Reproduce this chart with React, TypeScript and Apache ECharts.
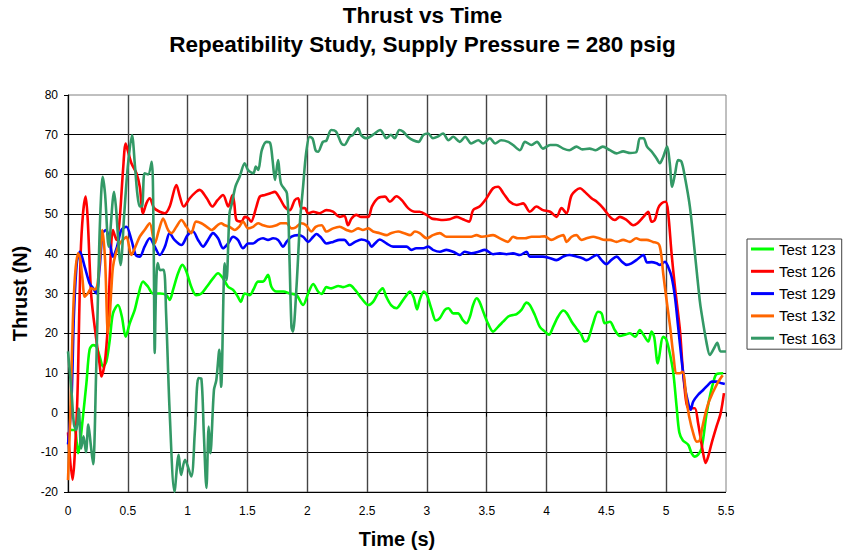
import React, { useEffect, useRef } from "react";
import * as echarts from "echarts";

const titleText = "Thrust vs Time\nRepeatibility Study, Supply Pressure = 280 psig";
const xName = "Time (s)";
const yName = "Thrust (N)";
const seriesNames = ["Test 123", "Test 126", "Test 129", "Test 132", "Test 163"];
const seriesColors = ["#00FF00", "#FF0000", "#0000FF", "#FF6600", "#339966"];

const test123: [number, number][] = [
  [0.01, -4], [0.028, -4.4], [0.056, -4.4], [0.084, -10.2], [0.1, -8], [0.125, -1], [0.154, 7.4],
  [0.18, 15.8], [0.209, 17], [0.237, 16.6], [0.265, 14.1], [0.293, 11.6], [0.32, 12.8], [0.349, 18.3],
  [0.376, 25], [0.418, 27.1], [0.45, 24.2], [0.482, 19.1], [0.516, 22.5], [0.558, 25.9], [0.585, 29.2],
  [0.627, 33], [0.669, 31.7], [0.71, 30], [0.77, 30], [0.823, 29.6], [0.85, 28.4], [0.878, 30.9],
  [0.92, 35.1], [0.956, 37.2], [0.99, 35.5], [1.03, 31.7], [1.07, 29.6], [1.115, 30], [1.16, 31.7],
  [1.212, 33.8], [1.254, 35.1], [1.296, 33.8], [1.338, 31.7], [1.38, 30.9], [1.42, 29.2], [1.444, 27.9],
  [1.477, 30], [1.52, 29.6], [1.55, 31], [1.589, 33], [1.63, 33], [1.672, 34.7], [1.7, 31.7],
  [1.742, 30.5], [1.8, 30.5], [1.854, 30], [1.91, 29.6], [1.965, 27.1], [2.007, 30], [2.05, 32.4],
  [2.09, 30.5], [2.12, 29.9], [2.16, 31.6], [2.2, 31.3], [2.26, 31.9], [2.3, 31.6], [2.355, 32.1],
  [2.4, 30.9], [2.453, 28.8], [2.51, 27.1], [2.55, 27.9], [2.59, 30], [2.63, 31.3], [2.66, 29.2],
  [2.7, 27.1], [2.746, 26.3], [2.79, 27.9], [2.83, 29.6], [2.857, 30.5], [2.89, 29], [2.918, 26],
  [2.94, 28.4], [2.974, 30.5], [3.0, 29.6], [3.04, 25.9], [3.074, 23.2], [3.108, 23.8], [3.15, 25.9],
  [3.18, 26.3], [3.22, 25], [3.26, 25], [3.3, 23.3], [3.33, 22.5], [3.36, 24.2], [3.386, 27.1],
  [3.415, 28.8], [3.44, 27.9], [3.476, 25], [3.51, 22.5], [3.553, 20.4], [3.595, 21.6], [3.637, 22.9],
  [3.68, 24.2], [3.72, 24.6], [3.75, 24.8], [3.79, 25.9], [3.833, 27.7], [3.86, 27.1], [3.902, 24.6],
  [3.944, 21.6], [3.986, 20.4], [4.02, 19.6], [4.055, 21.6], [4.097, 24.2], [4.14, 25.7], [4.17, 25],
  [4.21, 22.9], [4.25, 21.2], [4.29, 19.6], [4.32, 17.9], [4.345, 18.3], [4.39, 22.5], [4.43, 25.4],
  [4.46, 25], [4.487, 22.5], [4.53, 22.9], [4.57, 20.8], [4.613, 19.3], [4.655, 19.6], [4.697, 20],
  [4.74, 19.1], [4.78, 20.8], [4.81, 19.6], [4.85, 17.9], [4.878, 20.4], [4.9, 19], [4.93, 12.4],
  [4.975, 19.1], [5.0, 18.5], [5.03, 15], [5.06, 9.9], [5.087, 1.5], [5.11, -5], [5.14, -7],
  [5.184, -8.1], [5.212, -10.2], [5.24, -11.1], [5.267, -10.6], [5.296, -9], [5.338, -0.2],
  [5.371, 4.9], [5.399, 8.2], [5.421, 9.7], [5.477, 9.9],
];

const test126: [number, number][] = [
  [0, -5], [0.037, -16.9], [0.07, -2.7], [0.084, 9.9], [0.104, 38.4], [0.125, 50], [0.148, 54.4],
  [0.165, 48.5], [0.195, 29.2], [0.237, 18.3], [0.265, 12], [0.279, 9.1], [0.307, 12.4], [0.334, 22.5],
  [0.35, 35], [0.376, 46], [0.405, 43.5], [0.43, 48], [0.46, 61.1], [0.482, 67.8], [0.5, 66],
  [0.53, 62.8], [0.572, 60.3], [0.6, 56.9], [0.627, 50.2], [0.655, 52.7], [0.683, 54], [0.72, 51.5],
  [0.767, 50.6], [0.81, 50.2], [0.85, 51.9], [0.906, 57.3], [0.935, 54.4], [0.967, 51.9], [1.018, 54],
  [1.07, 55.6], [1.1, 56.1], [1.16, 54], [1.207, 51.9], [1.25, 53.5], [1.296, 54.8], [1.34, 51.9],
  [1.375, 54.8], [1.39, 52.7], [1.408, 48.5], [1.45, 48.1], [1.477, 49.3], [1.505, 49], [1.53, 48.1],
  [1.575, 51.9], [1.603, 54.4], [1.645, 54.8], [1.686, 55.2], [1.728, 55.6], [1.77, 54], [1.81, 51.9],
  [1.854, 51], [1.895, 53.5], [1.923, 54], [1.95, 51.5], [1.98, 51.5], [2.007, 50.2], [2.05, 50.6],
  [2.1, 50.2], [2.16, 51], [2.215, 50.6], [2.27, 49.3], [2.31, 49.6], [2.34, 47.2], [2.37, 48.9],
  [2.41, 49.8], [2.45, 49.3], [2.51, 49.3], [2.54, 51.9], [2.59, 54], [2.65, 54.4], [2.69, 53.1],
  [2.746, 54.5], [2.79, 53.5], [2.843, 51.5], [2.9, 50.6], [2.94, 50.6], [2.997, 49.8], [3.04, 48.9],
  [3.08, 48.7], [3.135, 48.5], [3.19, 48.7], [3.25, 49.3], [3.3, 48.7], [3.353, 48.1], [3.386, 51],
  [3.44, 51.9], [3.498, 54], [3.553, 56.5], [3.595, 56.9], [3.64, 55.2], [3.693, 53.1], [3.75, 52.3],
  [3.804, 52.7], [3.86, 50.6], [3.916, 51.9], [3.97, 51], [4.03, 50.6], [4.083, 49.3], [4.125, 51.5],
  [4.167, 50.2], [4.21, 54.8], [4.28, 56.5], [4.32, 55.6], [4.376, 54], [4.42, 53.1], [4.473, 51.5],
  [4.53, 49.3], [4.57, 48.5], [4.613, 49.3], [4.67, 48.5], [4.724, 47.2], [4.76, 47.7], [4.81, 49.3],
  [4.85, 50.6], [4.878, 48.1], [4.905, 48.5], [4.933, 51.5], [4.96, 52.7], [4.997, 53.1], [5.017, 50.2],
  [5.045, 40.1], [5.073, 31.7], [5.115, 20.8], [5.142, 9.9], [5.184, 1.1], [5.212, 1.1], [5.24, 1.1],
  [5.267, -2.7], [5.304, -9.4], [5.33, -12.7], [5.351, -11.1], [5.38, -7.7], [5.421, -3.5],
  [5.455, -0.2], [5.483, 4.9],
];

const test129: [number, number][] = [
  [0, -8], [0.028, 2.4], [0.05, 25], [0.075, 38], [0.1, 40.5], [0.14, 36.7], [0.18, 32.6], [0.21, 31.3],
  [0.237, 30], [0.265, 36.7], [0.29, 45.2], [0.32, 46], [0.35, 42.6], [0.376, 39.3], [0.41, 41.8],
  [0.446, 46], [0.488, 46.8], [0.53, 43.5], [0.566, 39.7], [0.6, 39.3], [0.64, 41.8], [0.683, 43.9],
  [0.725, 41.8], [0.767, 39.7], [0.81, 41.8], [0.85, 45.2], [0.89, 43.5], [0.948, 42.2], [1.0, 44.7],
  [1.045, 45.6], [1.087, 43.5], [1.129, 41.8], [1.17, 43.5], [1.212, 45.2], [1.254, 43.9], [1.296, 41.4],
  [1.338, 42.6], [1.38, 44.3], [1.42, 43.5], [1.463, 41.4], [1.505, 42.6], [1.547, 42.6], [1.589, 43.5],
  [1.63, 43.9], [1.672, 43.5], [1.714, 43.9], [1.756, 43.5], [1.798, 41.8], [1.826, 43], [1.868, 44.3],
  [1.923, 44.7], [1.965, 44.3], [2.007, 43], [2.05, 44.3], [2.077, 45], [2.12, 43.9], [2.16, 42.6],
  [2.216, 43], [2.27, 43.5], [2.31, 43.5], [2.355, 42.2], [2.4, 43], [2.453, 43.6], [2.51, 43],
  [2.537, 41.8], [2.565, 42.6], [2.606, 43.6], [2.662, 42.6], [2.717, 41.8], [2.77, 41.8], [2.83, 41.8],
  [2.87, 41], [2.91, 41.4], [2.97, 41.4], [3.01, 41.8], [3.05, 41], [3.108, 40.5], [3.164, 41],
  [3.22, 40.5], [3.275, 39.7], [3.316, 40.5], [3.37, 40.1], [3.43, 40.5], [3.484, 41], [3.553, 39.9],
  [3.61, 40.1], [3.665, 39.9], [3.72, 40.1], [3.777, 39.7], [3.833, 40.5], [3.86, 39.3], [3.916, 39.3],
  [3.97, 39.3], [4.03, 38.9], [4.083, 38.4], [4.14, 39.3], [4.19, 39.7], [4.25, 39.3], [4.3, 38.9],
  [4.335, 38.4], [4.39, 39.3], [4.42, 39.7], [4.46, 38.4], [4.5, 37.4], [4.54, 38.4], [4.585, 39.3],
  [4.63, 38], [4.67, 37.2], [4.71, 37.6], [4.75, 38.4], [4.81, 39.7], [4.84, 37.8], [4.878, 37.9],
  [4.92, 37.6], [4.947, 37.2], [4.99, 38], [5.017, 36.7], [5.045, 34.2], [5.073, 29.2], [5.1, 21.6],
  [5.129, 13.3], [5.156, 6.5], [5.184, 2.4], [5.204, 0.7], [5.226, 2.8], [5.267, 4.5], [5.309, 5.7],
  [5.351, 7], [5.38, 7.8], [5.421, 7.8], [5.463, 7.4], [5.49, 7.2],
];

const test132: [number, number][] = [
  [0, -17], [0.02, 0], [0.04, 22.5], [0.06, 35], [0.084, 40.1], [0.1, 39], [0.12, 34], [0.14, 29.2],
  [0.165, 30], [0.196, 31.3], [0.225, 31], [0.245, 32], [0.265, 38.4], [0.287, 46], [0.31, 38.4],
  [0.334, 20], [0.35, 25], [0.362, 31], [0.376, 36.7], [0.4, 40.1], [0.432, 42.6], [0.46, 43.5],
  [0.488, 44.3], [0.53, 39.7], [0.558, 41.4], [0.6, 44.3], [0.64, 46], [0.683, 47.7], [0.725, 42.6],
  [0.76, 46], [0.795, 48.9], [0.836, 46], [0.865, 45.2], [0.906, 46.8], [0.948, 48.5], [0.99, 46.8],
  [1.03, 45.2], [1.07, 48.1], [1.115, 47.7], [1.16, 46.8], [1.2, 46], [1.25, 47.2], [1.28, 47.7],
  [1.31, 47.2], [1.35, 46.8], [1.394, 46], [1.43, 46.8], [1.463, 48.1], [1.505, 46.4], [1.547, 46.8],
  [1.589, 47.7], [1.63, 47.2], [1.686, 46.8], [1.742, 47.2], [1.78, 47.7], [1.826, 47.7], [1.868, 46.4],
  [1.9, 46.6], [1.95, 47.7], [1.99, 47.2], [2.035, 45.6], [2.07, 46.8], [2.12, 47.2], [2.16, 45.6],
  [2.216, 46.4], [2.27, 46.8], [2.328, 46], [2.37, 45.6], [2.425, 46.4], [2.465, 46], [2.51, 46.4],
  [2.55, 45.6], [2.606, 45.2], [2.662, 44.7], [2.7, 45.2], [2.76, 45.6], [2.81, 45.2], [2.86, 44.7],
  [2.9, 45.6], [2.94, 45.2], [3.0, 43.9], [3.05, 44.7], [3.108, 45.2], [3.164, 44.3], [3.22, 44.3],
  [3.275, 44.3], [3.37, 44.3], [3.415, 44.7], [3.46, 44.3], [3.553, 44.7], [3.61, 43.9], [3.677, 43],
  [3.72, 44.3], [3.76, 43.9], [3.82, 43.9], [3.875, 44.3], [3.93, 44.3], [3.986, 44.4], [4.04, 43.5],
  [4.097, 44.3], [4.14, 44.7], [4.167, 43], [4.21, 44.3], [4.25, 44.7], [4.29, 43.5], [4.335, 43.9],
  [4.39, 44.3], [4.44, 43.9], [4.487, 43.5], [4.53, 43.5], [4.585, 43], [4.64, 43.5], [4.697, 43],
  [4.75, 43.9], [4.79, 43.5], [4.835, 43.5], [4.89, 43], [4.933, 42.6], [4.947, 41.8], [4.961, 39.3],
  [4.975, 35.1], [5.003, 28.4], [5.033, 21.6], [5.058, 15], [5.087, 9.9], [5.114, 9.9], [5.137, 10.3],
  [5.171, 3], [5.192, -1], [5.226, -5.2], [5.255, -7.3], [5.28, -7], [5.3, -4], [5.33, 0],
  [5.36, 3], [5.421, 7], [5.472, 9.4],
];

const test163: [number, number][] = [
  [0, 15.4], [0.03, 5], [0.05, -3], [0.07, -4.4], [0.09, 1], [0.11, -9], [0.13, -6], [0.15, -10],
  [0.17, -3], [0.19, -8], [0.21, -13], [0.235, 10], [0.255, 35], [0.27, 50], [0.29, 59.4], [0.31, 55],
  [0.34, 41.8], [0.385, 55.6], [0.4, 52], [0.44, 37.2], [0.47, 50], [0.5, 62], [0.535, 69.9],
  [0.56, 62], [0.58, 55], [0.6, 51.9], [0.62, 52], [0.64, 60.3], [0.67, 60], [0.7, 63.2], [0.715, 45],
  [0.725, 15], [0.735, 30], [0.75, 37.7], [0.77, 35.9], [0.8, 36], [0.82, 25], [0.85, 0], [0.89, -19.9],
  [0.925, -10.6], [0.945, -15.7], [0.978, -11.9], [1.03, -16.1], [1.06, -5], [1.09, 8.7], [1.115, 8.5],
  [1.135, -5], [1.157, -19], [1.176, -3.5], [1.19, -10.2], [1.22, 5.7], [1.24, 8.2], [1.265, 15.8],
  [1.28, 6.5], [1.31, 37.6], [1.325, 33.4], [1.35, 50.2], [1.37, 52.7], [1.4, 57], [1.435, 59.4],
  [1.477, 62.8], [1.505, 61.1], [1.55, 60.3], [1.57, 62], [1.59, 61.1], [1.62, 66.1], [1.66, 68.2],
  [1.69, 67.9], [1.71, 63.6], [1.73, 58.6], [1.756, 63.6], [1.78, 57.7], [1.83, 55.2], [1.85, 40.1],
  [1.868, 21.6], [1.88, 20.4], [1.91, 31.7], [1.94, 48.5], [1.965, 56.9], [1.99, 65.3], [2.02, 69.5],
  [2.045, 69], [2.07, 66], [2.09, 65.7], [2.13, 68.2], [2.16, 68.5], [2.2, 71.2], [2.24, 70.8],
  [2.285, 67.8], [2.31, 67.4], [2.355, 69.5], [2.38, 69.9], [2.425, 71.6], [2.45, 69.9], [2.495, 69.1],
  [2.55, 70], [2.61, 71.2], [2.64, 70], [2.66, 69.1], [2.7, 70], [2.73, 69.1], [2.77, 71.2], [2.8, 70.8],
  [2.84, 69.5], [2.885, 68.6], [2.93, 68.2], [2.97, 69.9], [3.01, 70.3], [3.05, 69.1], [3.09, 69.5],
  [3.135, 70.3], [3.18, 68.6], [3.22, 69.5], [3.275, 68.2], [3.32, 69.5], [3.37, 67.8], [3.43, 68.6],
  [3.47, 67.8], [3.526, 69.1], [3.57, 67.8], [3.62, 68.6], [3.68, 68.2], [3.72, 67.4], [3.777, 66.1],
  [3.82, 68.2], [3.875, 67.4], [3.92, 68.2], [3.97, 66.5], [4.03, 67.4], [4.08, 67.4], [4.14, 66.5],
  [4.19, 66.1], [4.25, 67], [4.3, 66.3], [4.36, 66.5], [4.41, 66.1], [4.47, 67], [4.53, 66.1],
  [4.585, 65.3], [4.64, 65.8], [4.7, 65.4], [4.75, 65.6], [4.78, 69.1], [4.81, 69.1], [4.84, 67],
  [4.88, 65.7], [4.92, 64], [4.947, 62.8], [4.975, 64.4], [5.008, 67], [5.03, 62.8], [5.05, 56.9],
  [5.075, 60.3], [5.1, 63.6], [5.128, 63.2], [5.156, 59.4], [5.198, 51.9], [5.24, 40.1], [5.28, 28.4],
  [5.296, 25], [5.338, 17.5], [5.365, 14.5], [5.4, 16.2], [5.427, 17.6], [5.455, 15.4], [5.5, 15.4],
];

const seriesData = [test123, test126, test129, test132, test163];

const FONT = "'Liberation Sans', Arial, sans-serif";

export default function App() {
  const ref = useRef<HTMLDivElement>(null);
  useEffect(() => {
    if (!ref.current) return;
    const chart = echarts.init(ref.current, null, { renderer: "svg" });
    chart.setOption({
      animation: false,
      backgroundColor: "#ffffff",
      title: {
        text: titleText,
        left: "center",
        top: 1,
        padding: 0,
        textStyle: { fontFamily: FONT, fontSize: 22.5, fontWeight: "bold", color: "#000", lineHeight: 29 },
      },
      legend: {
        orient: "vertical",
        left: 747,
        top: 239,
        padding: [2, 6, 3, 4],
        itemGap: 6.3,
        itemWidth: 23,
        itemHeight: 3,
        icon: "rect",
        borderColor: "#404040",
        borderWidth: 1,
        textStyle: { fontFamily: FONT, fontSize: 15, color: "#000", lineHeight: 16 },
        data: seriesNames,
      },
      grid: {
        left: 68,
        top: 95,
        width: 658,
        height: 397,
        show: true,
        borderColor: "#808080",
        borderWidth: 1,
        containLabel: false,
      },
      xAxis: {
        type: "value",
        min: 0,
        max: 5.5,
        interval: 0.5,
        name: xName,
        nameLocation: "middle",
        nameGap: 37,
        nameTextStyle: { fontFamily: FONT, fontSize: 20, fontWeight: "bold", color: "#000" },
        axisLine: { show: true, lineStyle: { color: "#000", width: 1 } },
        axisTick: { show: true, length: 4, inside: false, lineStyle: { color: "#000" } },
        axisLabel: { margin: 13, fontFamily: FONT, fontSize: 12, color: "#000" },
        splitLine: { show: true, showMaxLine: false, lineStyle: { color: "#444", width: 1.4 } },
      },
      yAxis: {
        type: "value",
        min: -20,
        max: 80,
        interval: 10,
        name: yName,
        nameLocation: "middle",
        nameGap: 35,
        nameTextStyle: { fontFamily: FONT, fontSize: 20, fontWeight: "bold", color: "#000" },
        axisLine: { show: true, lineStyle: { color: "#000", width: 1 } },
        axisTick: { show: true, length: 4, inside: false, lineStyle: { color: "#000" } },
        axisLabel: { margin: 10, fontFamily: FONT, fontSize: 12, color: "#000" },
        splitLine: { show: true, showMaxLine: false, lineStyle: { color: "#000", width: 1 } },
      },
      series: seriesNames.map((name, i) => ({
        name,
        type: "line",
        data: seriesData[i],
        showSymbol: false,
        symbol: "none",
        smooth: 0.3,
        color: seriesColors[i],
        lineStyle: { color: seriesColors[i], width: 2.6 },
        z: 2 + i,
      })),
    });
    return () => chart.dispose();
  }, []);
  return (
    <div
      ref={ref}
      style={{ position: "absolute", left: 0, top: 0, width: 845, height: 554, background: "#fff" }}
    />
  );
}
